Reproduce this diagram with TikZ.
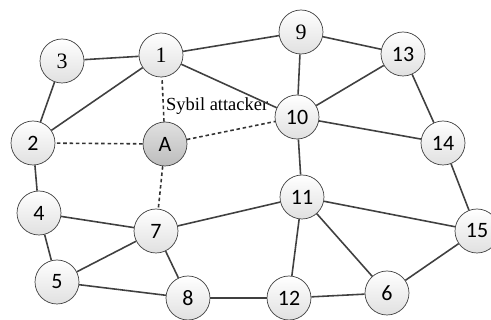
\documentclass[tikz,border=0pt]{standalone}
\usepackage{fontspec}
\setmainfont{Liberation Serif}
\newfontfamily\peerfont{Carlito}
\usetikzlibrary{positioning}

\begin{document}
\begin{tikzpicture}[
        % Define common styles for the peers and links
        x=0.02cm, y=-0.02cm,
        peer/.style={draw=black!75, circle, thin, minimum size=0.88cm, inner sep=0pt, top color=white, bottom color=black!12, font=\peerfont\fontsize{12.5}{13}\selectfont},
        serifpeer/.style={peer, font=\fontsize{12.5}{13}\selectfont},
        sybil/.style={peer, top color=black!12, bottom color=black!26},
        link/.style={draw=black!75, line width=0.9pt},
        fakelink/.style={draw=black!80, line width=0.9pt, dash pattern=on 2pt off 1.6pt}
    ]
    \useasboundingbox (0,0) rectangle (491,320);

        % Define the peers
        \node[serifpeer] (n3) at (62,61) {3};
        \node[serifpeer] (n1) at (161,55) {1};
        \node[serifpeer] (n9) at (301,32) {9};
        \node[peer] (n13) at (403,54) {13};
        \node[peer] (n2) at (33,143) {2};
        \node[sybil] (A) at (165,144) {A};
        \node[peer] (n10) at (297,117) {10};
        \node[peer] (n14) at (443,143) {14};
        \node[peer] (n4) at (39,213) {4};
        \node[peer] (n7) at (156,231) {7};
        \node[peer] (n11) at (302,197) {11};
        \node[peer] (n15) at (477,231) {15};
        \node[peer] (n5) at (57,282) {5};
        \node[peer] (n8) at (188,298) {8};
        \node[peer] (n12) at (289,298) {12};
        \node[peer] (n6) at (387,293) {6};

        \node[anchor=west, font=\fontsize{10.5}{12}\selectfont] (label) at (160,106) {Sybil attacker};

        % Draw the honest links
        \draw[link] (n3) -- (n1);
        \draw[link] (n3) -- (n2);
        \draw[link] (n1) -- (n2);
        \draw[link] (n1) -- (n9);
        \draw[link] (n1) -- (n10);
        \draw[link] (n9) -- (n10);
        \draw[link] (n9) -- (n13);
        \draw[link] (n13) -- (n10);
        \draw[link] (n13) -- (n14);
        \draw[link] (n10) -- (n14);
        \draw[link] (n10) -- (n11);
        \draw[link] (n14) -- (n15);
        \draw[link] (n11) -- (n7);
        \draw[link] (n11) -- (n15);
        \draw[link] (n11) -- (n12);
        \draw[link] (n11) -- (n6);
        \draw[link] (n2) -- (n4);
        \draw[link] (n4) -- (n7);
        \draw[link] (n4) -- (n5);
        \draw[link] (n7) -- (n5);
        \draw[link] (n7) -- (n8);
        \draw[link] (n5) -- (n8);
        \draw[link] (n8) -- (n12);
        \draw[link] (n12) -- (n6);
        \draw[link] (n6) -- (n15);

        % Draw the links of the attacker
        \draw[fakelink] (A) -- (n1);
        \draw[fakelink] (A) -- (n2);
        \draw[fakelink] (A) -- (n10);
        \draw[fakelink] (A) -- (n7);

    \end{tikzpicture}
\end{document}
